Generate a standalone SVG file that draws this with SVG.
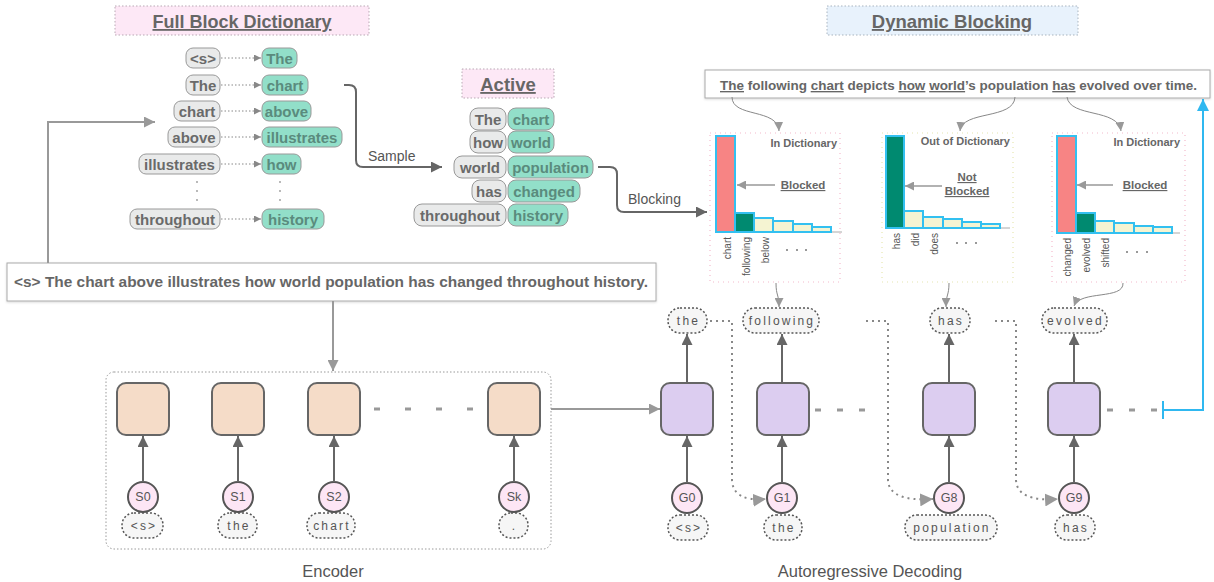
<svg xmlns="http://www.w3.org/2000/svg" width="1214" height="582" viewBox="0 0 1214 582">
<style>
text{font-family:"Liberation Sans",Arial,sans-serif}
.title{font-size:18.5px;font-weight:bold;fill:#666;text-decoration:underline;text-anchor:middle}
.pl{fill:#e9eaea;stroke:#999;stroke-width:1}
.pr{fill:#92dfc9;stroke:#999;stroke-width:1}
.tl{font-size:15px;font-weight:bold;fill:#6a6a6a;text-anchor:middle;dominant-baseline:central}
.tr{font-size:15px;font-weight:bold;fill:#5a8b7d;text-anchor:middle;dominant-baseline:central}
.dictln{stroke:#888;stroke-width:1;stroke-dasharray:1.5 2;fill:none}
.sent{font-size:13.5px;font-weight:bold;fill:#666}
.hbox{fill:none;stroke-width:1.2;stroke-dasharray:1 4}
.bar{stroke:#33c0f0;stroke-width:2}
.red{fill:#f78484}.teal{fill:#008a70}.cream{fill:#f5f4d2}
.htitle{font-size:11px;font-weight:bold;fill:#666;text-anchor:end}
.blk{font-size:11.5px;font-weight:bold;fill:#666;text-decoration:underline;text-anchor:middle}
.rl{font-size:10px;fill:#555;text-anchor:end;dominant-baseline:central}
.axis{stroke:#aaa;stroke-width:1}
.enc{fill:#f5dcc8;stroke:#666;stroke-width:2}
.dec{fill:#dccdf0;stroke:#666;stroke-width:2}
.circ{fill:#fde6f5;stroke:#555;stroke-width:2}
.ct{font-size:12.5px;fill:#555;text-anchor:middle;dominant-baseline:central}
.tok{fill:#f6f6f6;stroke:#555;stroke-width:1.5;stroke-dasharray:2 2}
.tt{font-size:12px;fill:#555;text-anchor:middle;dominant-baseline:central;letter-spacing:2.2px}
.up{stroke:#666;stroke-width:2;fill:none}
.gray{stroke:#999;stroke-width:2;fill:none}
.thin{stroke:#888;stroke-width:1;fill:none}
.dot{stroke:#888;stroke-width:2;stroke-dasharray:2 4;fill:none}
.dash{stroke:#999;stroke-width:3;fill:none}
.lbl{font-size:16.5px;fill:#555;text-anchor:middle}
</style>
<defs>
<marker id="aDark" viewBox="0 0 10 10" refX="10" refY="5" markerWidth="12" markerHeight="11" markerUnits="userSpaceOnUse" orient="auto"><path d="M0,0L10,5L0,10z" fill="#666"/></marker>
<marker id="aGray" viewBox="0 0 10 10" refX="10" refY="5" markerWidth="11" markerHeight="11" markerUnits="userSpaceOnUse" orient="auto"><path d="M0,0L10,5L0,10z" fill="#999"/></marker>
<marker id="aFb" viewBox="0 0 10 10" refX="10" refY="5" markerWidth="13" markerHeight="13" markerUnits="userSpaceOnUse" orient="auto"><path d="M0,0L10,5L0,10z" fill="#999"/></marker>
<marker id="aSmall" viewBox="0 0 10 10" refX="10" refY="5" markerWidth="9" markerHeight="9" markerUnits="userSpaceOnUse" orient="auto"><path d="M0,0L10,5L0,10z" fill="#999"/></marker>
<marker id="aTiny" viewBox="0 0 10 10" refX="10" refY="5" markerWidth="7" markerHeight="7" markerUnits="userSpaceOnUse" orient="auto"><path d="M0,0L10,5L0,10z" fill="#888"/></marker>
<marker id="aBlue" viewBox="0 0 10 10" refX="10" refY="5" markerWidth="12" markerHeight="12" markerUnits="userSpaceOnUse" orient="auto"><path d="M0,0L10,5L0,10z" fill="#2fb8f0"/></marker>
<filter id="sh" x="-5%" y="-20%" width="110%" height="150%"><feDropShadow dx="0" dy="1" stdDeviation="1" flood-color="#000" flood-opacity="0.15"/></filter>
</defs>

<!-- Titles -->
<g id="title-full">
<rect x="115" y="6" width="254" height="29" fill="#fde8f6" stroke="#b9a9b4" stroke-dasharray="1.5 2"/>
<text class="title" x="242" y="28" style="font-size:18px">Full Block Dictionary</text>
</g>
<g id="title-active">
<rect x="462" y="69" width="92" height="29" fill="#fde8f6" stroke="#b9a9b4" stroke-dasharray="1.5 2"/>
<text class="title" x="508" y="91">Active</text>
</g>
<g id="title-dynamic">
<rect x="827" y="6" width="251" height="29" fill="#e8f2fc" stroke="#a9b4bf" stroke-dasharray="1.5 2"/>
<text class="title" x="952" y="28">Dynamic Blocking</text>
</g>

<!-- Full Block Dictionary -->
<g id="full-dict">
<rect class="pl" x="186" y="48" width="34" height="20" rx="7"/><text class="tl" x="203" y="58">&lt;s&gt;</text>
<rect class="pr" x="262" y="48" width="35" height="20" rx="7"/><text class="tr" x="279.5" y="58">The</text>
<rect class="pl" x="186" y="75" width="34" height="20" rx="7"/><text class="tl" x="203" y="85">The</text>
<rect class="pr" x="262" y="75" width="46" height="20" rx="7"/><text class="tr" x="285" y="85">chart</text>
<rect class="pl" x="174" y="101" width="46" height="20" rx="7"/><text class="tl" x="197" y="111">chart</text>
<rect class="pr" x="262" y="101" width="49" height="20" rx="7"/><text class="tr" x="286.5" y="111">above</text>
<rect class="pl" x="168" y="127" width="52" height="20" rx="7"/><text class="tl" x="194" y="137">above</text>
<rect class="pr" x="262" y="127" width="80" height="20" rx="7"/><text class="tr" x="302" y="137">illustrates</text>
<rect class="pl" x="139" y="154" width="81" height="20" rx="7"/><text class="tl" x="179.5" y="164">illustrates</text>
<rect class="pr" x="262" y="154" width="39" height="20" rx="7"/><text class="tr" x="281.5" y="164">how</text>
<rect class="pl" x="130" y="209" width="90" height="20" rx="7"/><text class="tl" x="175" y="219">throughout</text>
<rect class="pr" x="262" y="209" width="62" height="20" rx="7"/><text class="tr" x="293" y="219">history</text>
<g fill="#999"><circle cx="197" cy="182" r="0.9"/><circle cx="197" cy="191" r="0.9"/><circle cx="197" cy="200" r="0.9"/><circle cx="280" cy="182" r="0.9"/><circle cx="280" cy="191" r="0.9"/><circle cx="280" cy="200" r="0.9"/></g>
</g>

<!-- Active -->
<g id="active">
<rect class="pl" x="470" y="108" width="36" height="22" rx="8"/><text class="tl" x="488" y="119">The</text>
<rect class="pr" x="508" y="108" width="46" height="22" rx="8"/><text class="tr" x="531" y="119">chart</text>
<rect class="pl" x="470" y="131" width="36" height="22" rx="8"/><text class="tl" x="488" y="142">how</text>
<rect class="pr" x="508" y="131" width="46" height="22" rx="8"/><text class="tr" x="531" y="142">world</text>
<rect class="pl" x="454" y="156" width="52" height="22" rx="8"/><text class="tl" x="480" y="167">world</text>
<rect class="pr" x="508" y="156" width="85" height="22" rx="8"/><text class="tr" x="550.5" y="167">population</text>
<rect class="pl" x="472" y="180" width="34" height="22" rx="8"/><text class="tl" x="489" y="191">has</text>
<rect class="pr" x="508" y="180" width="72" height="22" rx="8"/><text class="tr" x="544" y="191">changed</text>
<rect class="pl" x="414" y="204" width="92" height="22" rx="8"/><text class="tl" x="460" y="215">throughout</text>
<rect class="pr" x="508" y="204" width="60" height="22" rx="8"/><text class="tr" x="538" y="215">history</text>
</g>

<!-- Sentences -->
<g id="target-sentence">
<rect x="705" y="70" width="505" height="28" fill="#fff" stroke="#aaa" filter="url(#sh)"/>
<text class="sent" x="720" y="90" textLength="477" lengthAdjust="spacingAndGlyphs"><tspan text-decoration="underline">The</tspan> following <tspan text-decoration="underline">chart</tspan> depicts <tspan text-decoration="underline">how</tspan> <tspan text-decoration="underline">world</tspan>’s population <tspan text-decoration="underline">has</tspan> evolved over time.</text>
</g>
<g id="source-sentence">
<rect x="7" y="263" width="649" height="38" fill="#fff" stroke="#aaa" filter="url(#sh)"/>
<text class="sent" x="14" y="287" style="font-size:15px" textLength="634" lengthAdjust="spacingAndGlyphs">&lt;s&gt; The chart above illustrates how world population has changed throughout history.</text>
</g>

<!-- Histograms -->
<g id="hist1">
<rect class="hbox" x="710" y="133" width="130" height="149" stroke="#f4b9cc"/>
<text class="htitle" x="837" y="147">In Dictionary</text>
<line class="axis" x1="716" y1="232" x2="842" y2="232"/>
<rect class="bar red" x="716" y="136" width="19" height="96"/>
<rect class="bar teal" x="735" y="213" width="19" height="19"/>
<rect class="bar cream" x="754" y="218" width="19" height="14"/>
<rect class="bar cream" x="773" y="221" width="20" height="11"/>
<rect class="bar cream" x="793" y="224" width="19" height="8"/>
<rect class="bar cream" x="812" y="227" width="19" height="5"/>
<text class="blk" x="803" y="189">Blocked</text>
<text class="rl" transform="translate(727,237) rotate(-90)">chart</text>
<text class="rl" transform="translate(746,237) rotate(-90)">following</text>
<text class="rl" transform="translate(765,237) rotate(-90)">below</text>
<g fill="#777"><circle cx="787" cy="250" r="1"/><circle cx="797" cy="250" r="1"/><circle cx="806" cy="250" r="1"/></g>
</g>
<g id="hist2">
<rect class="hbox" x="882" y="133" width="131" height="149" stroke="#e6e6b0"/>
<text class="htitle" x="1010" y="145">Out of Dictionary</text>
<line class="axis" x1="886" y1="228" x2="1010" y2="228"/>
<rect class="bar teal" x="886" y="136" width="18" height="92"/>
<rect class="bar cream" x="904" y="211" width="19" height="17"/>
<rect class="bar cream" x="923" y="217" width="20" height="11"/>
<rect class="bar cream" x="943" y="219" width="19" height="9"/>
<rect class="bar cream" x="962" y="222" width="19" height="6"/>
<rect class="bar cream" x="981" y="224" width="19" height="4"/>
<text class="blk" x="967" y="181">Not</text>
<text class="blk" x="967" y="195">Blocked</text>
<text class="rl" transform="translate(896,233) rotate(-90)">has</text>
<text class="rl" transform="translate(915,233) rotate(-90)">did</text>
<text class="rl" transform="translate(934,233) rotate(-90)">does</text>
<g fill="#777"><circle cx="957" cy="243" r="1"/><circle cx="966" cy="243" r="1"/><circle cx="976" cy="243" r="1"/></g>
</g>
<g id="hist3">
<rect class="hbox" x="1052" y="133" width="133" height="149" stroke="#f4b9cc"/>
<text class="htitle" x="1180" y="146">In Dictionary</text>
<line class="axis" x1="1057" y1="233" x2="1180" y2="233"/>
<rect class="bar red" x="1057" y="136" width="19" height="97"/>
<rect class="bar teal" x="1076" y="213" width="19" height="20"/>
<rect class="bar cream" x="1095" y="221" width="19" height="12"/>
<rect class="bar cream" x="1114" y="223" width="20" height="10"/>
<rect class="bar cream" x="1134" y="226" width="19" height="7"/>
<rect class="bar cream" x="1153" y="227" width="19" height="6"/>
<text class="blk" x="1145" y="189">Blocked</text>
<text class="rl" transform="translate(1067,238) rotate(-90)">changed</text>
<text class="rl" transform="translate(1086,238) rotate(-90)">evolved</text>
<text class="rl" transform="translate(1105,238) rotate(-90)">shifted</text>
<g fill="#777"><circle cx="1127" cy="252" r="1"/><circle cx="1137" cy="252" r="1"/><circle cx="1147" cy="252" r="1"/></g>
</g>

<!-- Encoder -->
<g id="encoder">
<rect x="106" y="372" width="445" height="177" rx="8" fill="#fff" stroke="#999" stroke-dasharray="1.5 2"/>
<text class="lbl" x="333" y="577">Encoder</text>
</g>
<g id="enc-0"><rect class="enc" x="117" y="383" width="52" height="52" rx="9"/><circle class="circ" cx="143" cy="497" r="15"/><text class="ct" x="143" y="497">S0</text><rect class="tok" x="122" y="513" width="41" height="25" rx="12"/><text class="tt" x="144" y="525.5">&lt;s&gt;</text></g>
<g id="enc-1"><rect class="enc" x="212" y="383" width="52" height="52" rx="9"/><circle class="circ" cx="238" cy="497" r="15"/><text class="ct" x="238" y="497">S1</text><rect class="tok" x="218" y="513" width="39" height="25" rx="12"/><text class="tt" x="239" y="525.5">the</text></g>
<g id="enc-2"><rect class="enc" x="308" y="383" width="52" height="52" rx="9"/><circle class="circ" cx="334" cy="497" r="15"/><text class="ct" x="334" y="497">S2</text><rect class="tok" x="307" y="513" width="48" height="25" rx="12"/><text class="tt" x="332" y="525.5">chart</text></g>
<g id="enc-k"><rect class="enc" x="488" y="383" width="52" height="52" rx="9"/><circle class="circ" cx="514" cy="497" r="15"/><text class="ct" x="514" y="497">Sk</text><rect class="tok" x="499" y="513" width="29" height="25" rx="12"/><text class="tt" x="514.5" y="525.5">.</text></g>

<!-- Decoder -->
<g id="dec-0"><rect class="dec" x="661" y="383" width="52" height="52" rx="9"/><circle class="circ" cx="687" cy="498" r="15"/><text class="ct" x="687" y="498">G0</text><rect class="tok" x="668" y="515" width="40" height="25" rx="12"/><text class="tt" x="689" y="527.5">&lt;s&gt;</text><rect class="tok" x="668" y="308" width="39" height="25" rx="12"/><text class="tt" x="688.5" y="320.5">the</text></g>
<g id="dec-1"><rect class="dec" x="757" y="383" width="52" height="52" rx="9"/><circle class="circ" cx="782" cy="498" r="15"/><text class="ct" x="782" y="498">G1</text><rect class="tok" x="764" y="515" width="38" height="25" rx="12"/><text class="tt" x="784" y="527.5">the</text><rect class="tok" x="743" y="308" width="76" height="25" rx="12"/><text class="tt" x="782" y="320.5">following</text></g>
<g id="dec-8"><rect class="dec" x="923" y="383" width="52" height="52" rx="9"/><circle class="circ" cx="949" cy="498" r="15"/><text class="ct" x="949" y="498">G8</text><rect class="tok" x="905" y="515" width="92" height="25" rx="12"/><text class="tt" x="952" y="527.5">population</text><rect class="tok" x="930" y="308" width="40" height="25" rx="12"/><text class="tt" x="951" y="320.5">has</text></g>
<g id="dec-9"><rect class="dec" x="1048" y="383" width="52" height="52" rx="9"/><circle class="circ" cx="1074" cy="498" r="15"/><text class="ct" x="1074" y="498">G9</text><rect class="tok" x="1055" y="515" width="40" height="25" rx="12"/><text class="tt" x="1076" y="527.5">has</text><rect class="tok" x="1042" y="308" width="65" height="25" rx="12"/><text class="tt" x="1075.5" y="320.5">evolved</text></g>
<g id="decoder-label"><text class="lbl" x="870" y="577">Autoregressive Decoding</text></g>

<!-- Connectors -->
<g id="connectors">
<path class="dictln" d="M221,58H261" marker-end="url(#aTiny)"/>
<path class="dictln" d="M221,85H261" marker-end="url(#aTiny)"/>
<path class="dictln" d="M221,111H261" marker-end="url(#aTiny)"/>
<path class="dictln" d="M221,137H261" marker-end="url(#aTiny)"/>
<path class="dictln" d="M221,164H261" marker-end="url(#aTiny)"/>
<path class="dictln" d="M221,219H261" marker-end="url(#aTiny)"/>
<path class="up" d="M344,85H349Q356,85 356,92V160Q356,167 363,167H442" marker-end="url(#aDark)"/>
<text x="368" y="161" style="font-size:14px;fill:#555">Sample</text>
<path class="up" d="M598,167H610Q617,167 617,174V205Q617,212 624,212H707" marker-end="url(#aDark)"/>
<text x="628" y="204" style="font-size:14px;fill:#555">Blocking</text>
<path class="gray" d="M48,263V122H155" marker-end="url(#aGray)"/>
<path class="gray" d="M333,301V371" marker-end="url(#aGray)"/>
<path class="gray" d="M551,409H660" marker-end="url(#aGray)"/>
<path class="thin" d="M732,97C732,118 778,108 779,131" marker-end="url(#aSmall)"/>
<path class="thin" d="M1015,97C1014,120 962,110 960,131" marker-end="url(#aSmall)"/>
<path class="thin" d="M1067,97C1070,118 1118,108 1121,131" marker-end="url(#aSmall)"/>
<path class="gray" style="stroke-width:1.5" d="M775,185H737" marker-end="url(#aSmall)"/>
<path class="gray" style="stroke-width:1.5" d="M942,186H905" marker-end="url(#aSmall)"/>
<path class="gray" style="stroke-width:1.5" d="M1113,185H1077" marker-end="url(#aSmall)"/>
<path class="thin" d="M776,283C776,296 779,294 779,307" marker-end="url(#aSmall)"/>
<path class="thin" d="M949,283C949,296 946,294 946,307" marker-end="url(#aSmall)"/>
<path class="thin" d="M1123,283C1124,300 1080,290 1074,306" marker-end="url(#aSmall)"/>
<path class="up" d="M143,482V436" marker-end="url(#aDark)"/>
<path class="up" d="M238,482V436" marker-end="url(#aDark)"/>
<path class="up" d="M334,482V436" marker-end="url(#aDark)"/>
<path class="up" d="M514,482V436" marker-end="url(#aDark)"/>
<path class="dash" style="stroke-dasharray:6 25" d="M374,409H480"/>
<path class="up" d="M687,483V436" marker-end="url(#aDark)"/>
<path class="up" d="M782,483V436" marker-end="url(#aDark)"/>
<path class="up" d="M949,483V436" marker-end="url(#aDark)"/>
<path class="up" d="M1074,483V436" marker-end="url(#aDark)"/>
<path class="up" d="M687,383V334" marker-end="url(#aDark)"/>
<path class="up" d="M782,383V334" marker-end="url(#aDark)"/>
<path class="up" d="M949,383V334" marker-end="url(#aDark)"/>
<path class="up" d="M1074,383V334" marker-end="url(#aDark)"/>
<path class="dash" style="stroke-dasharray:6 16" d="M815,410H875"/>
<path class="dash" style="stroke-dasharray:6 16" d="M1107,410H1160"/>
<path class="dot" d="M710,321H732V480Q733,502 766,499" marker-end="url(#aFb)"/>
<path class="dot" d="M866,321H888V480Q889,502 933,499" marker-end="url(#aFb)"/>
<path class="dot" d="M995,321H1016V480Q1017,502 1058,499" marker-end="url(#aFb)"/>
<path d="M1163,410H1203V99" fill="none" stroke="#2fb8f0" stroke-width="2" marker-end="url(#aBlue)"/>
<path d="M1163,401V419" stroke="#2fb8f0" stroke-width="2"/>
</g>
</svg>
